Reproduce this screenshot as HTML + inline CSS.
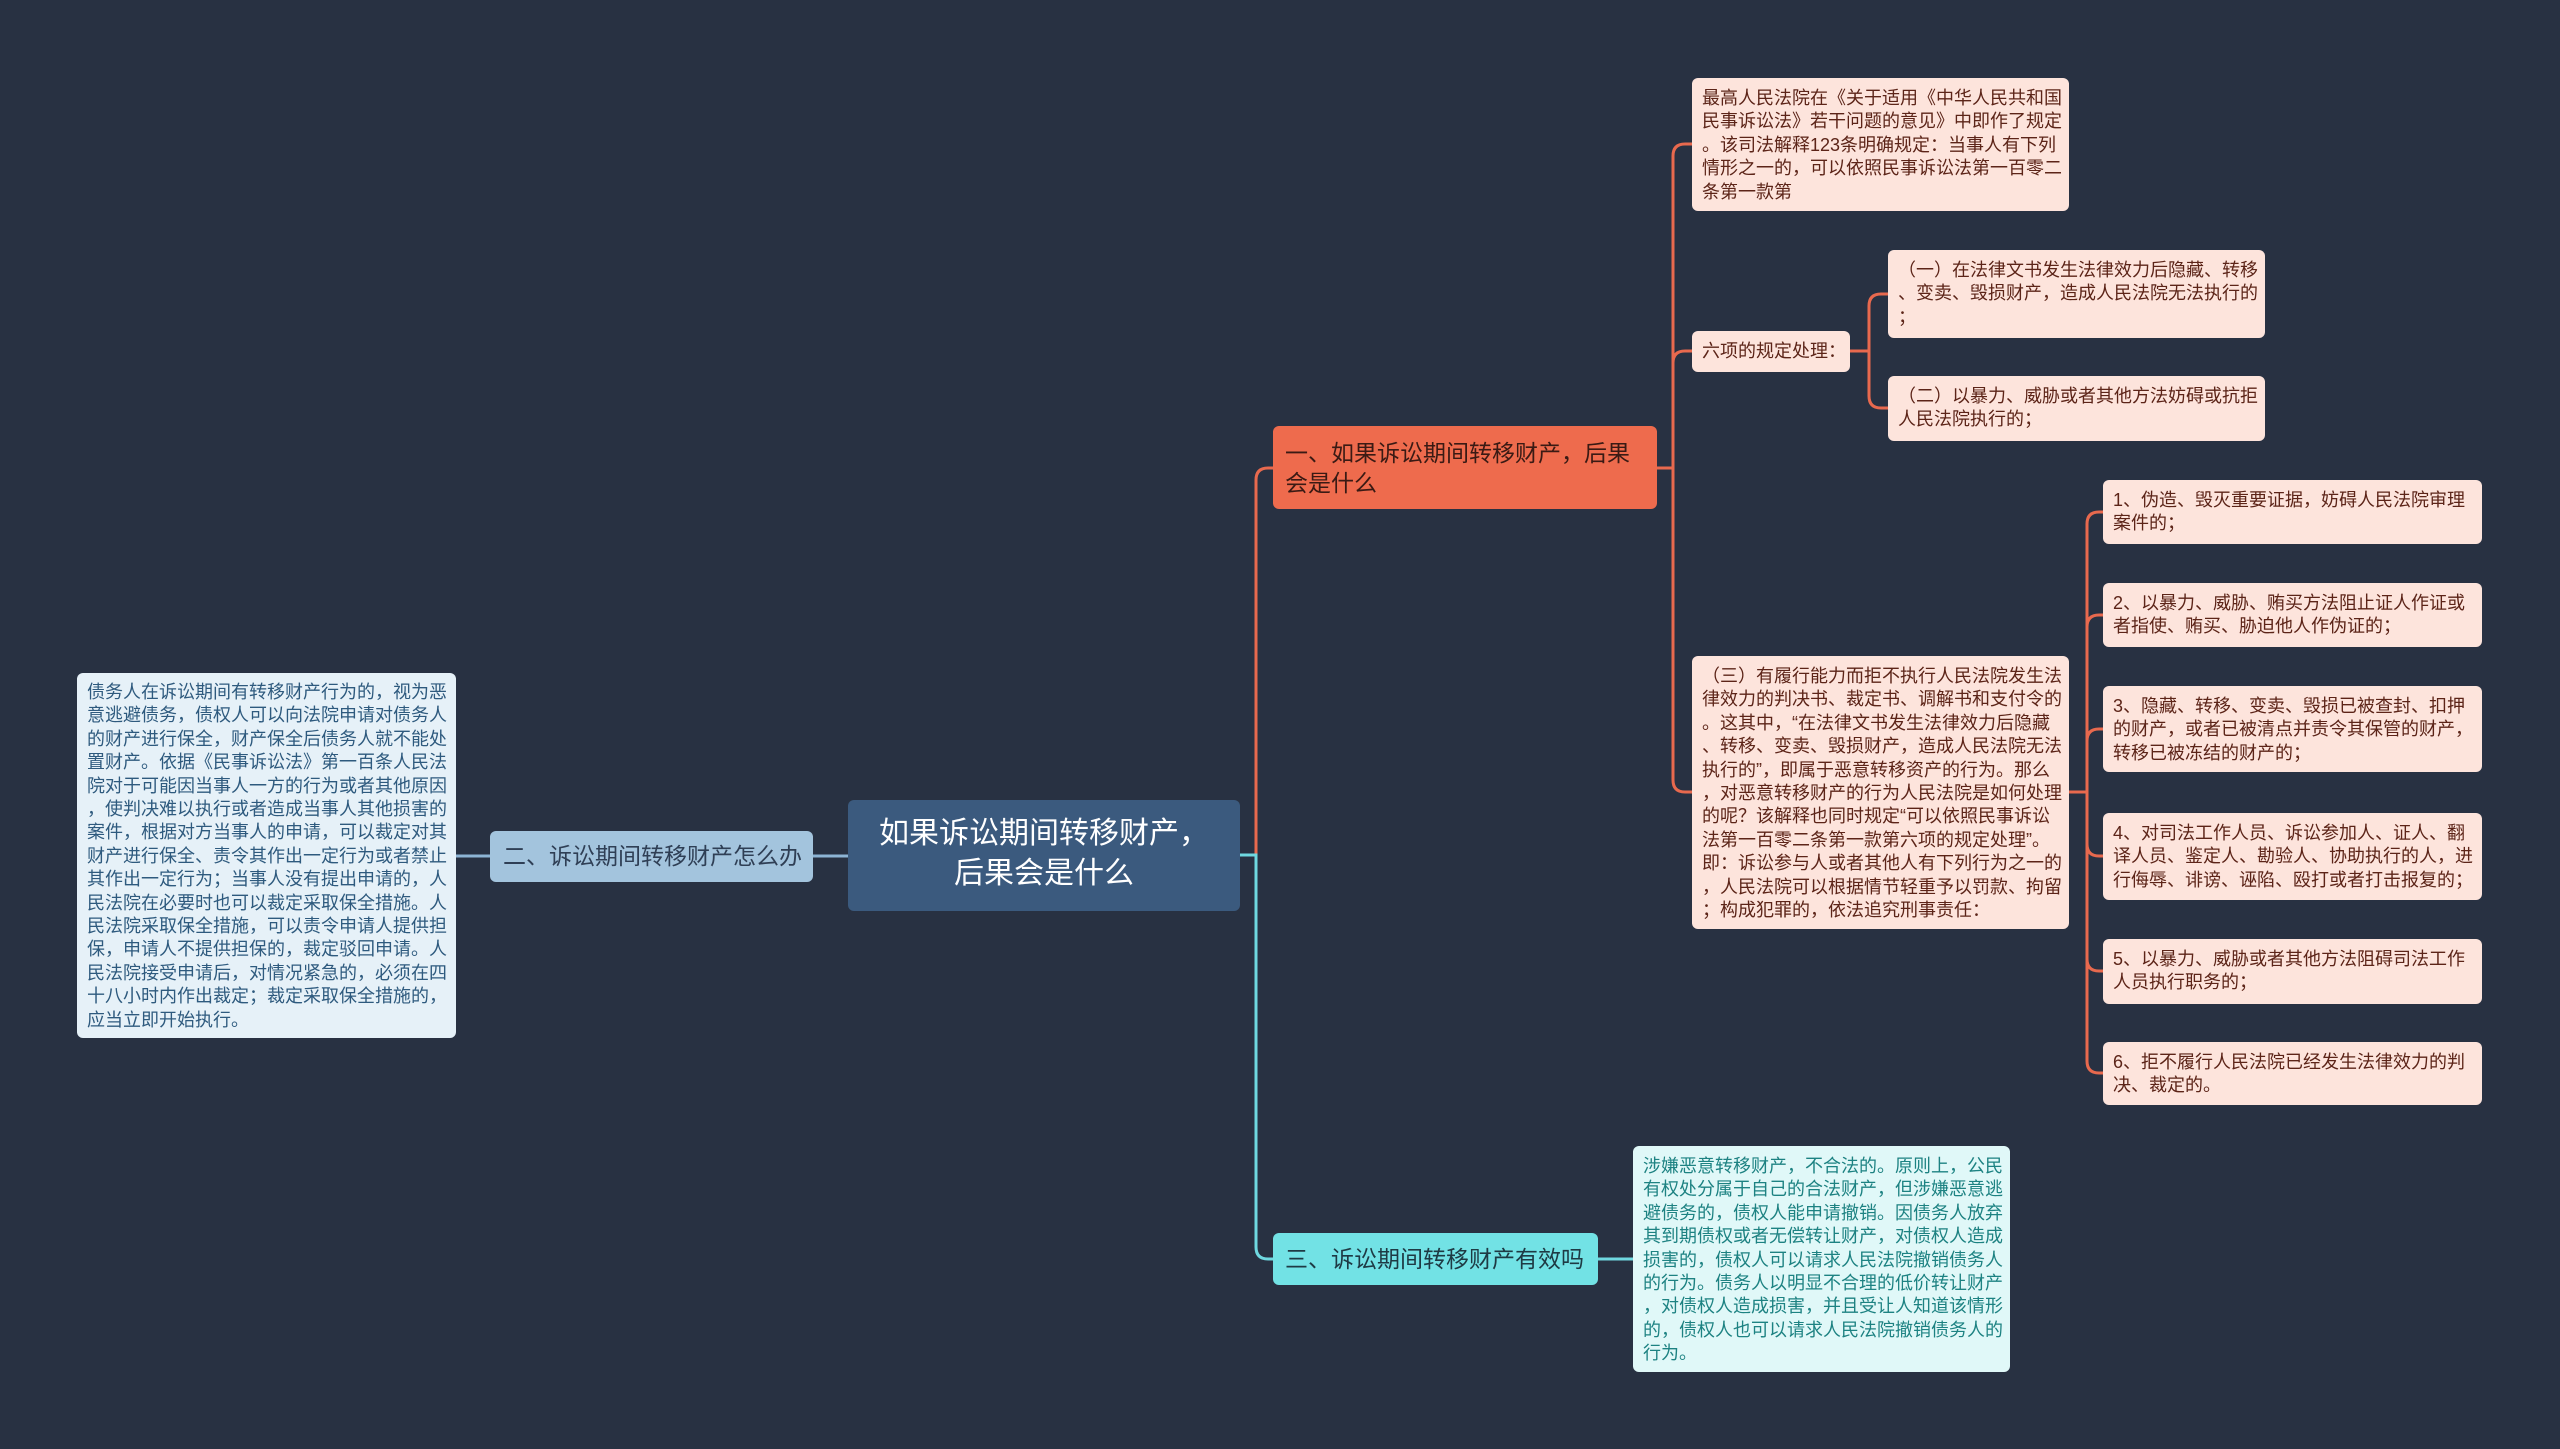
<!DOCTYPE html>
<html><head><meta charset="utf-8"><style>
body{margin:0;width:2560px;height:1449px;background:#283142;position:relative;overflow:hidden;font-family:"Liberation Sans","Noto Sans CJK SC",sans-serif}
.b{position:absolute;box-sizing:border-box;border-radius:6px;white-space:nowrap}
.t{font-size:18px;line-height:23.4px;padding:9px 10px}
.o{background:#fde4dc;color:#5c2418}
.lb{background:#e6f1f8;color:#2e5a7e}
.cy{background:#e0f8f8;color:#1d8282}
svg{position:absolute;left:0;top:0}
</style></head><body>
<svg width="2560" height="1449" fill="none" stroke-width="3">
<g stroke="#e8694e">
<path d="M1240,855 H1256 V480 Q1256,468 1268,468 H1274"/>
<path d="M1657,468 H1673"/>
<path d="M1673,468 V156 Q1673,144 1685,144 H1692"/>
<path d="M1673,468 V363 Q1673,351 1685,351 H1692"/>
<path d="M1673,468 V780 Q1673,792 1685,792 H1692"/>
<path d="M1850,351 H1869"/>
<path d="M1869,351 V306 Q1869,294 1881,294 H1888"/>
<path d="M1869,351 V396 Q1869,408 1881,408 H1888"/>
<path d="M2069,792 H2087"/>
<path d="M2087,792 V524 Q2087,512 2099,512 H2103"/>
<path d="M2087,792 V627 Q2087,615 2099,615 H2103"/>
<path d="M2087,792 V741 Q2087,729 2099,729 H2103"/>
<path d="M2087,792 V844 Q2087,856 2099,856 H2103"/>
<path d="M2087,792 V959 Q2087,971 2099,971 H2103"/>
<path d="M2087,792 V1061 Q2087,1073 2099,1073 H2103"/>
</g>
<g stroke="#6fd8e0">
<path d="M1240,855 H1256 V1247 Q1256,1259 1268,1259 H1274"/>
<path d="M1598,1259 H1633"/>
</g>
<g stroke="#8db4d4">
<path d="M848,856 H813"/>
<path d="M490,856 H456"/>
</g>
</svg>

<div class="b" style="left:848px;top:800px;width:392px;height:111px;background:#3b5a7e;color:#fff;font-size:30px;line-height:40px;text-align:center;padding-top:14px">如果诉讼期间转移财产，<br>后果会是什么</div>

<div class="b" style="left:490px;top:831px;width:323px;height:51px;background:#a3c4dd;color:#2f3f55;font-size:23px;line-height:51px;padding-left:13px">二、诉讼期间转移财产怎么办</div>

<div class="b t lb" style="left:77px;top:673px;width:379px;height:365px;padding-top:8px">债务人在诉讼期间有转移财产行为的，视为恶<br>意逃避债务，债权人可以向法院申请对债务人<br>的财产进行保全，财产保全后债务人就不能处<br>置财产。依据《民事诉讼法》第一百条人民法<br>院对于可能因当事人一方的行为或者其他原因<br>，使判决难以执行或者造成当事人其他损害的<br>案件，根据对方当事人的申请，可以裁定对其<br>财产进行保全、责令其作出一定行为或者禁止<br>其作出一定行为；当事人没有提出申请的，人<br>民法院在必要时也可以裁定采取保全措施。人<br>民法院采取保全措施，可以责令申请人提供担<br>保，申请人不提供担保的，裁定驳回申请。人<br>民法院接受申请后，对情况紧急的，必须在四<br>十八小时内作出裁定；裁定采取保全措施的，<br>应当立即开始执行。</div>

<div class="b" style="left:1273px;top:426px;width:384px;height:83px;background:#ee6b4d;color:#3a1a14;font-size:23px;line-height:30px;padding:12px 12px">一、如果诉讼期间转移财产，后果<br>会是什么</div>

<div class="b" style="left:1273px;top:1233px;width:325px;height:52px;background:#72e2e5;color:#1e3a44;font-size:23px;line-height:52px;padding-left:12px">三、诉讼期间转移财产有效吗</div>

<div class="b t o" style="left:1692px;top:78px;width:377px;height:133px">最高人民法院在《关于适用《中华人民共和国<br>民事诉讼法》若干问题的意见》中即作了规定<br>。该司法解释123条明确规定：当事人有下列<br>情形之一的，可以依照民事诉讼法第一百零二<br>条第一款第</div>

<div class="b t o" style="left:1692px;top:331px;width:158px;height:41px;padding-top:9px">六项的规定处理：</div>

<div class="b t o" style="left:1888px;top:250px;width:377px;height:88px">（一）在法律文书发生法律效力后隐藏、转移<br>、变卖、毁损财产，造成人民法院无法执行的<br>；</div>

<div class="b t o" style="left:1888px;top:376px;width:377px;height:65px">（二）以暴力、威胁或者其他方法妨碍或抗拒<br>人民法院执行的；</div>

<div class="b t o" style="left:1692px;top:656px;width:377px;height:273px">（三）有履行能力而拒不执行人民法院发生法<br>律效力的判决书、裁定书、调解书和支付令的<br>。这其中，“在法律文书发生法律效力后隐藏<br>、转移、变卖、毁损财产，造成人民法院无法<br>执行的”，即属于恶意转移资产的行为。那么<br>，对恶意转移财产的行为人民法院是如何处理<br>的呢？该解释也同时规定“可以依照民事诉讼<br>法第一百零二条第一款第六项的规定处理”。<br>即：诉讼参与人或者其他人有下列行为之一的<br>，人民法院可以根据情节轻重予以罚款、拘留<br>；构成犯罪的，依法追究刑事责任：</div>

<div class="b t o" style="left:2103px;top:480px;width:379px;height:64px">1、伪造、毁灭重要证据，妨碍人民法院审理<br>案件的；</div>
<div class="b t o" style="left:2103px;top:583px;width:379px;height:64px">2、以暴力、威胁、贿买方法阻止证人作证或<br>者指使、贿买、胁迫他人作伪证的；</div>
<div class="b t o" style="left:2103px;top:686px;width:379px;height:86px">3、隐藏、转移、变卖、毁损已被查封、扣押<br>的财产，或者已被清点并责令其保管的财产，<br>转移已被冻结的财产的；</div>
<div class="b t o" style="left:2103px;top:813px;width:379px;height:87px">4、对司法工作人员、诉讼参加人、证人、翻<br>译人员、鉴定人、勘验人、协助执行的人，进<br>行侮辱、诽谤、诬陷、殴打或者打击报复的；</div>
<div class="b t o" style="left:2103px;top:939px;width:379px;height:65px">5、以暴力、威胁或者其他方法阻碍司法工作<br>人员执行职务的；</div>
<div class="b t o" style="left:2103px;top:1042px;width:379px;height:63px">6、拒不履行人民法院已经发生法律效力的判<br>决、裁定的。</div>

<div class="b t cy" style="left:1633px;top:1146px;width:377px;height:226px">涉嫌恶意转移财产，不合法的。原则上，公民<br>有权处分属于自己的合法财产，但涉嫌恶意逃<br>避债务的，债权人能申请撤销。因债务人放弃<br>其到期债权或者无偿转让财产，对债权人造成<br>损害的，债权人可以请求人民法院撤销债务人<br>的行为。债务人以明显不合理的低价转让财产<br>，对债权人造成损害，并且受让人知道该情形<br>的，债权人也可以请求人民法院撤销债务人的<br>行为。</div>
</body></html>
